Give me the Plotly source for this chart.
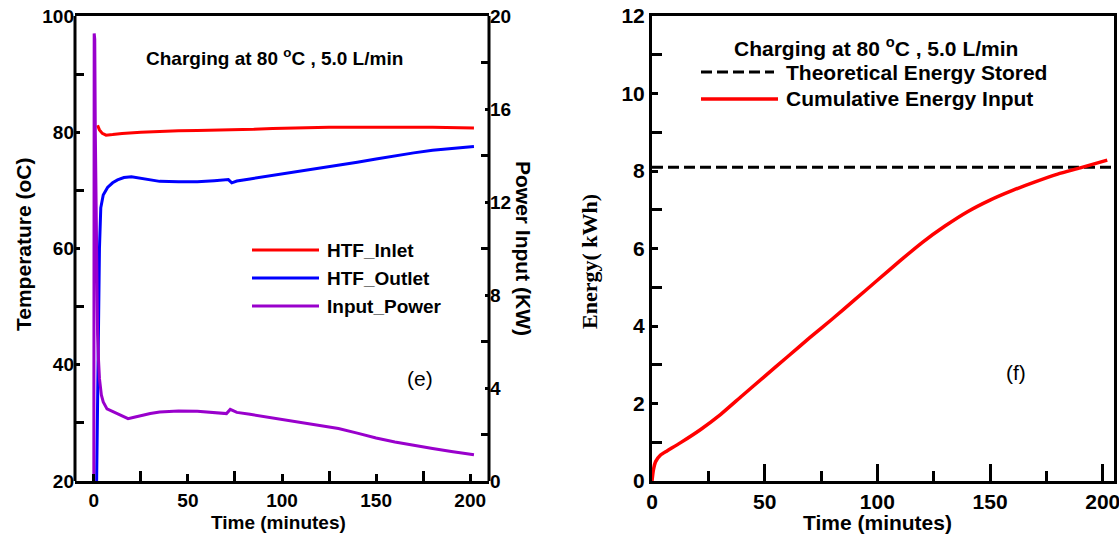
import plotly.graph_objects as go

W, H = 1119, 539

# ---------------- data: panel (e) ----------------
inlet_t = [2.0, 3.0, 4.5, 6.5, 10, 15, 25, 35, 45, 55, 65, 75, 85, 95, 105, 115, 125, 140, 160, 180, 202]
inlet_T = [81.2, 80.4, 79.8, 79.5, 79.6, 79.8, 80.0, 80.15, 80.25, 80.3, 80.35, 80.4, 80.5, 80.65,
           80.75, 80.82, 80.85, 80.85, 80.88, 80.85, 80.75]

outlet_t = [1.5, 2.0, 2.5, 3.0, 3.7, 5, 7.3, 10, 12.6, 16, 20, 25, 30, 35, 45, 55, 64, 71.5, 73.3, 76,
            83, 90, 100, 110, 120, 130, 140, 150, 160, 170, 180, 190, 202]
outlet_T = [20, 35, 50, 60, 67, 69.2, 70.5, 71.3, 71.8, 72.2, 72.35, 72.1, 71.8, 71.55, 71.5, 71.5,
            71.67, 71.85, 71.3, 71.6, 71.96, 72.3, 72.85, 73.35, 73.85, 74.3, 74.85, 75.4, 75.95,
            76.45, 76.9, 77.25, 77.55]

power_t = [0.0, 0.2, 0.5, 0.8, 1.2, 1.6, 2.0, 2.5, 3.0, 4.0, 5.0, 7.0, 10.6, 14, 18.2, 22, 26, 30,
           35, 45, 55, 64, 70.5, 72.5, 73.5, 76, 83, 90, 100, 110, 120, 130, 140, 150, 160, 170,
           180, 190, 202]
power_kw = [0, 19.25, 19.0, 15, 11, 8, 6.3, 5.2, 4.4, 3.7, 3.4, 3.1, 2.97, 2.85, 2.68, 2.75, 2.84,
            2.9, 2.97, 3.01, 3.0, 2.95, 2.9, 3.08, 3.05, 2.95, 2.87, 2.78, 2.64, 2.52, 2.4, 2.26,
            2.06, 1.85, 1.68, 1.53, 1.4, 1.27, 1.13]

# ---------------- data: panel (f) ----------------
energy_t = [0, 0.6, 1.6, 3.8, 6.8, 12.7, 21.6, 30.5, 40, 50, 60, 70, 80, 90, 100, 110, 120, 130,
            140, 150, 160, 170, 180, 190, 202]
energy_kwh = [0, 0.28, 0.5, 0.67, 0.78, 0.99, 1.33, 1.72, 2.2, 2.7, 3.2, 3.7, 4.18, 4.68, 5.18,
              5.68, 6.16, 6.58, 6.95, 7.25, 7.5, 7.72, 7.92, 8.08, 8.28]
theory_t = [0, 205]
theory_kwh = [8.1, 8.1]

legend_e = ["HTF_Inlet", "HTF_Outlet", "Input_Power"]
legend_f = ["Theoretical Energy Stored", "Cumulative Energy Input"]
title_text = "Charging at 80 <sup>o</sup>C , 5.0 L/min"

RED, BLUE, PURPLE = "#ff0000", "#0000ff", "#9900cc"
SANS = "Liberation Sans"


def X(px):
    return px / W


def Y(py):
    return 1 - py / H


fig = go.Figure()
fig.add_trace(go.Scatter(x=outlet_t, y=outlet_T, mode="lines", line=dict(color=BLUE, width=3),
                         xaxis="x", yaxis="y", name=legend_e[1]))
fig.add_trace(go.Scatter(x=inlet_t, y=inlet_T, mode="lines", line=dict(color=RED, width=3),
                         xaxis="x", yaxis="y", name=legend_e[0]))
fig.add_trace(go.Scatter(x=power_t, y=power_kw, mode="lines", line=dict(color=PURPLE, width=3),
                         xaxis="x", yaxis="y2", name=legend_e[2]))
fig.add_trace(go.Scatter(x=theory_t, y=theory_kwh, mode="lines",
                         line=dict(color="black", width=3, dash="11px,5px"),
                         xaxis="x2", yaxis="y3", name=legend_f[0]))
fig.add_trace(go.Scatter(x=energy_t, y=energy_kwh, mode="lines",
                         line=dict(color=RED, width=3.5, shape="spline", smoothing=0.6),
                         xaxis="x2", yaxis="y3", name=legend_f[1]))


def axis_common(size, major_len, minor_len, dtick, minor_dtick, rng):
    return dict(
        range=rng, dtick=dtick, tick0=0, ticks="inside", ticklen=major_len, tickwidth=2.5,
        tickcolor="black", showline=True, linewidth=3, linecolor="black", showgrid=False,
        zeroline=False, automargin=False, ticklabeloverflow="allow",
        tickfont=dict(family=SANS, size=size, color="black", weight="bold"),
        minor=dict(dtick=minor_dtick, tick0=0, ticks="inside", ticklen=minor_len, tickwidth=2.5,
                   tickcolor="black", showgrid=False),
    )


ydom = [Y(481), Y(16)]
xaxis = axis_common(19, 7, 10, 50, 25, [-10, 210])
xaxis.update(domain=[X(75), X(489)], anchor="y", mirror=True)
yaxis = axis_common(19, 5, 9, 20, 10, [20, 100])
yaxis.update(domain=ydom, anchor="x", showline=False)
yaxis2 = axis_common(19, 4, 8, 4, 2, [0, 20])
yaxis2.update(overlaying="y", side="right", anchor="x", showline=False)

xaxis2 = axis_common(21, 17, 10, 50, 25, [0, 205])
xaxis2.update(domain=[X(652), X(1114)], anchor="y3", mirror=True)
yaxis3 = axis_common(21, 6, 10, 2, 1, [0, 12])
yaxis3.update(domain=ydom, anchor="x2", mirror=True)

annotations = []


def txt(x, y, s, size, angle=0, anchor="center", family=SANS, bold=True):
    annotations.append(dict(
        x=X(x), y=Y(y), xref="paper", yref="paper", text=s, showarrow=False, textangle=angle,
        xanchor=anchor, yanchor="middle",
        font=dict(family=family, size=size, color="black", weight="bold" if bold else "normal")))


# panel (e) texts
txt(274, 57, title_text, 19)
txt(278, 522, "Time (minutes)", 19)
txt(23, 245, "Temperature (oC)", 21, angle=-90)
txt(524, 248, "Power Input (KW)", 21, angle=90)
txt(420, 378, "(e)", 21, bold=False)
# panel (f) texts
txt(876, 47, title_text, 21)
txt(877, 522, "Time (minutes)", 21)
txt(589, 262, "Energy( kWh)", 22, angle=-90, family="Liberation Serif")
txt(1016, 372, "(f)", 21, bold=False)

# frame sides of panel (e) (left and right borders of the plot box)
shapes = []
for side in (0, 1):
    shapes.append(dict(type="line", xref="x domain", yref="y domain", x0=side, x1=side,
                       y0=0, y1=1, line=dict(color="black", width=3)))

# manual legends
for i, (name, col) in enumerate(zip(legend_e, [RED, BLUE, PURPLE])):
    yy = 250 + 28 * i
    shapes.append(dict(type="line", xref="paper", yref="paper", x0=X(252), x1=X(319),
                       y0=Y(yy), y1=Y(yy), line=dict(color=col, width=3)))
    txt(325, yy, name, 19, anchor="left")

shapes.append(dict(type="line", xref="paper", yref="paper", x0=X(701), x1=X(774),
                   y0=Y(72), y1=Y(72), line=dict(color="black", width=3, dash="11px,5px")))
txt(784, 72, legend_f[0], 21, anchor="left")
shapes.append(dict(type="line", xref="paper", yref="paper", x0=X(701), x1=X(778),
                   y0=Y(99), y1=Y(99), line=dict(color=RED, width=3.5)))
txt(784, 99, legend_f[1], 21, anchor="left")

fig.update_layout(
    template="none",
    width=W, height=H, autosize=False, margin=dict(l=0, r=0, t=0, b=0, pad=0),
    paper_bgcolor="white", plot_bgcolor="white", showlegend=False,
    xaxis=xaxis, yaxis=yaxis, yaxis2=yaxis2, xaxis2=xaxis2, yaxis3=yaxis3,
    annotations=annotations, shapes=shapes,
)

fig.write_html("out.html")
